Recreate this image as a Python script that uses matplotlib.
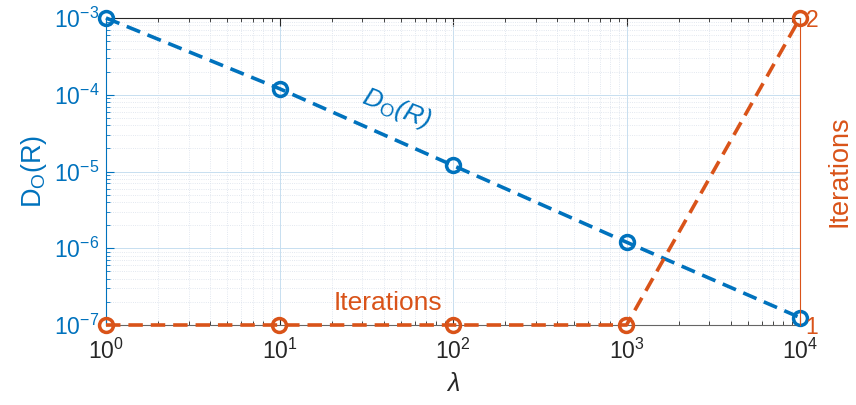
import matplotlib.pyplot as plt
import numpy as np

plt.rcParams['font.family'] = ['Liberation Sans', 'DejaVu Sans']
plt.rcParams['mathtext.fontset'] = 'custom'
plt.rcParams['mathtext.rm'] = 'Liberation Sans'
plt.rcParams['mathtext.it'] = 'Liberation Sans:italic'

lam = [1, 10, 100, 1000, 10000]
d_o = [1.0e-3, 1.2e-4, 1.2e-5, 1.2e-6, 1.25e-7]
iterations = [1, 1, 1, 1, 2]

blue = (0 / 255, 114 / 255, 189 / 255)
orange = (217 / 255, 83 / 255, 25 / 255)
dark = (0.15, 0.15, 0.15)

fig = plt.figure(figsize=(8.56, 4.05), dpi=100)
ax = fig.add_axes([106 / 856, 1 - 325 / 405, (800 - 106) / 856, (325 - 18) / 405])
ax2 = ax.twinx()

ax.plot(lam, d_o, '--', color=blue, lw=2.6, dashes=(4, 2.2),
        marker='o', ms=10, mfc='none', mew=2.5, clip_on=False, zorder=5)
ax2.plot(lam, iterations, '--', color=orange, lw=2.6, dashes=(4, 2.2),
         marker='o', ms=10, mfc='none', mew=2.5, clip_on=False, zorder=5)

ax.set_xscale('log')
ax.set_yscale('log')
ax.set_xlim(1, 1e4)
ax.set_ylim(1e-7, 1e-3)
ax2.set_ylim(1, 2)
ax2.set_yticks([1, 2])

# grid, MATLAB style
ax.grid(True, which='major', color=(0.78, 0.87, 0.94), lw=0.7)
ax.grid(True, which='minor', color=(0.85, 0.88, 0.92), lw=0.6, ls=':')
ax.set_axisbelow(True)

ax.tick_params(axis='both', which='both', direction='in', top=True)
ax.tick_params(axis='both', which='major', length=6, labelsize=16.5)
ax.tick_params(axis='both', which='minor', length=3)
ax.tick_params(axis='x', which='both', colors=dark, pad=10)
ax.tick_params(axis='y', which='both', colors=blue, labelcolor=blue, right=False, pad=5)
ax2.tick_params(axis='y', direction='in', colors=orange, labelsize=16.5, length=0, pad=4)

ax.spines['top'].set_color(dark)
ax.spines['bottom'].set_color((0.4, 0.4, 0.4))
ax.spines['left'].set_color(blue)
ax.spines['right'].set_visible(False)
for sp in ['top', 'bottom', 'left']:
    ax2.spines[sp].set_visible(False)
ax2.spines['right'].set_color(orange)

ax.set_xlabel(r'$\mathit{\lambda}$', fontsize=18, color=dark, labelpad=6)
ax.set_ylabel(r'D$_\mathrm{O}$(R)', fontsize=19.5, color=blue, labelpad=3)
ax2.set_ylabel('Iterations', fontsize=19.5, color=orange, labelpad=6)

# inline labels next to each curve
ax.text(47, 6.6e-5, r'D$_\mathrm{O}$(R)', fontsize=19, color=blue,
        rotation=-21, fontstyle='italic', ha='center', va='center')
ax.text(42, 1.95e-7, 'Iterations', fontsize=19, color=orange,
        ha='center', va='center')

fig.savefig('out.png', dpi=100)
